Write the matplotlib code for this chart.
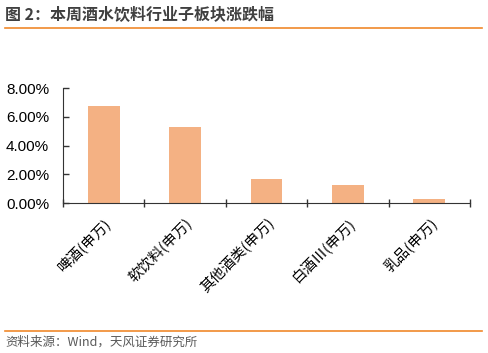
import matplotlib
matplotlib.use('Agg')
import matplotlib.pyplot as plt
from matplotlib.lines import Line2D
from matplotlib.ticker import FuncFormatter

plt.rcParams['font.family'] = ['Liberation Sans', 'Noto Sans CJK SC', 'DejaVu Sans']

# 数据
categories = ['啤酒(申万)', '软饮料(申万)', '其他酒类(申万)', '白酒Ⅲ(申万)', '乳品(申万)']
values = [6.76, 5.30, 1.68, 1.25, 0.28]   # %
y_ticks = [0, 2, 4, 6, 8]

bar_color = '#F4B183'
line_color = '#F0892B'

fig = plt.figure(figsize=(4.88, 3.53), dpi=100)

# 标题和横线
fig.text(5 / 488, 1 - 15 / 353, '图 2：本周酒水饮料行业子板块涨跌幅', fontsize=11.5,
         fontweight='bold', color='#404040', va='center', ha='left',
         family=['Noto Sans CJK SC', 'DejaVu Sans'])
fig.add_artist(Line2D([5 / 488, 482 / 488], [1 - 27.5 / 353] * 2, color=line_color, lw=1.2))
fig.add_artist(Line2D([5 / 488, 482 / 488], [1 - 330.5 / 353] * 2, color=line_color, lw=1.2))
fig.text(5 / 488, 1 - 342 / 353, '资料来源：Wind，天风证券研究所', fontsize=9,
         color='#595959', va='center', ha='left',
         family=['Noto Sans CJK SC', 'DejaVu Sans'])

ax = fig.add_axes([63 / 488, 1 - 203 / 353, (470 - 63) / 488, (203 - 88) / 353])
x = list(range(len(categories)))
ax.bar(x, values, width=0.39, color=bar_color)

ax.set_xlim(-0.5, len(categories) - 0.5)
ax.set_ylim(0, 8)
ax.set_yticks(y_ticks)
ax.yaxis.set_major_formatter(FuncFormatter(lambda v, p: '%.2f%%' % v))

# x 轴刻度放在分类边界
ax.set_xticks([i - 0.5 for i in range(len(categories) + 1)])
ax.set_xticklabels([])
ax.set_xticks(x, minor=True)
ax.set_xticklabels(categories, minor=True, rotation=45, ha='right', va='top',
                   rotation_mode='anchor', fontsize=10.5,
                   family=['Noto Sans CJK SC', 'DejaVu Sans'])
ax.tick_params(axis='x', which='minor', length=0, pad=9)
ax.tick_params(axis='x', which='major', direction='inout', length=6, width=1,
               color='#333333')
ax.tick_params(axis='y', direction='in', length=4, width=1, labelsize=11, pad=10,
               color='#333333')

for s in ['top', 'right']:
    ax.spines[s].set_visible(False)
ax.spines['left'].set_color('#333333')
ax.spines['bottom'].set_color('#333333')

fig.savefig('out.png', dpi=100)
